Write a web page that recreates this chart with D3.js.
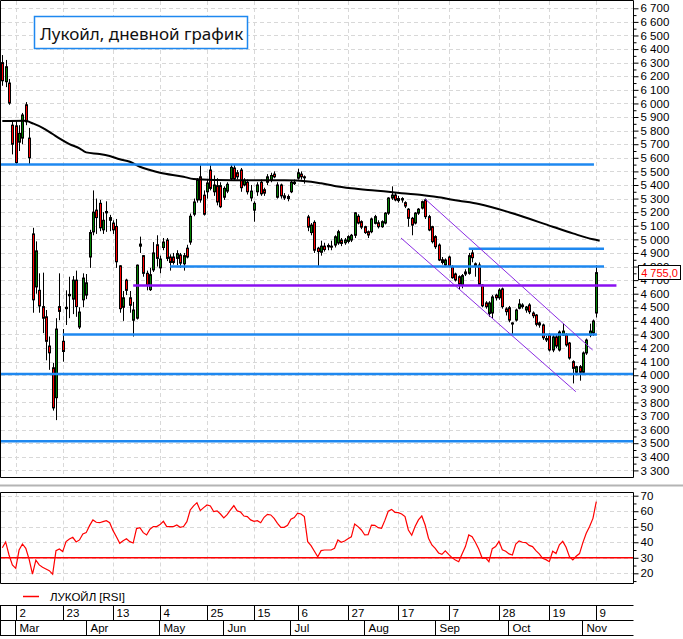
<!DOCTYPE html>
<html>
<head>
<meta charset="utf-8">
<script src="https://cdn.jsdelivr.net/npm/d3@7"></script>
<style>
body { margin: 0; background: #fff; }
text { font-family: "Liberation Sans", Arial, sans-serif; }
</style>
</head>
<body>
<script>
var width = 683,
    height = 639;

// торговые дни: с 25 февраля 2020, без выходных и праздников биржи
var startDate = "2020-02-25";
var holidays = ["2020-03-09", "2020-05-01", "2020-05-11", "2020-06-12", "2020-06-24", "2020-07-01", "2020-11-04"];

// open, high, low, close
var ohlc = [
  [6300,6356,6130,6167],[6160,6320,6120,6270],[6150,6180,5990,6003],[5840,5870,5625,5700],
  // Mar
  [5835,5870,5550,5565],[5715,5840,5650,5780],[5745,5930,5700,5915],[5990,6010,5840,5865],[5745,5820,5550,5600],
  [5040,5085,4460,4555],[4650,4985,4600,4915],[4625,4750,4460,4510],[4505,4755,4310,4420],
  [4430,4480,4110,4250],[4215,4285,4040,4165],[4055,4090,3740,3760],[3835,4420,3670,4340],[4505,4750,4405,4470],
  [4250,4340,4100,4175],[4490,4625,4370,4500],[4585,4725,4420,4595],[4560,4730,4450,4700],[4700,4770,4430,4505],
  [4355,4500,4340,4465],[4555,4750,4500,4715],
  // Apr
  [4590,4745,4560,4680],[4870,5070,4790,5050],[5055,5360,5030,5200],
  [5215,5300,5040,5160],[5265,5290,5060,5085],[5070,5200,5040,5140],[5195,5280,5055,5205],[5140,5180,5060,5160],
  [5120,5140,5040,5070],[5095,5150,4790,4835],[4805,4810,4460,4490],[4500,4620,4400,4570],[4700,4710,4590,4625],
  [4570,4620,4460,4515],[4405,4540,4285,4480],[4420,4815,4410,4810],[4950,5020,4900,4965],[4880,4885,4725,4750],
  [4750,4770,4625,4665],[4630,4790,4620,4740],[4775,4980,4760,4900],[4960,5030,4800,4860],
  // May
  [4790,4880,4750,4855],[4940,5010,4920,4980],[4995,5010,4840,4860],[4870,4890,4770,4830],[4870,4900,4815,4830],
  [4860,4920,4810,4895],[4885,4900,4790,4825],[4820,4900,4770,4880],[4935,4960,4860,4870],
  [4980,5190,4960,5170],[5185,5300,5170,5275],[5290,5450,5270,5437],[5460,5545,5270,5290],[5325,5360,5175,5185],
  [5350,5440,5300,5415],[5510,5545,5360,5375],[5350,5470,5320,5400],[5395,5450,5250,5275],[5395,5420,5230,5240],
  // Jun
  [5310,5390,5290,5375],[5355,5420,5340,5405],[5445,5555,5430,5530],[5525,5550,5430,5445],[5490,5510,5440,5460],
  [5510,5525,5350,5380],[5400,5450,5390,5435],[5420,5440,5330,5350],[5305,5400,5280,5355],
  [5215,5280,5130,5265],[5350,5420,5320,5400],[5420,5440,5320,5335],[5365,5380,5320,5340],[5420,5480,5400,5460],
  [5435,5490,5420,5470],[5480,5500,5450,5460],[5310,5420,5300,5400],[5400,5410,5300,5320],
  [5305,5340,5290,5320],[5315,5330,5280,5300],
  // Jul
  [5350,5430,5340,5420],[5420,5440,5400,5410],
  [5450,5520,5440,5490],[5480,5500,5440,5460],[5460,5470,5410,5455],[5165,5180,5060,5090],[5050,5120,5030,5105],
  [5125,5140,4900,4920],[4935,4945,4800,4910],[4905,4990,4880,4950],[4950,4975,4910,4925],[4945,4970,4920,4955],
  [4950,4990,4920,4945],[4958,5030,4940,5019],[4973,5070,4960,5056],[4995,5010,4950,4970],[4975,5010,4960,4995],
  [4985,5030,4970,5020],[4995,5040,4980,5030],[5030,5200,5010,5195],[5170,5185,5110,5120],[5130,5140,5075,5090],
  // Aug
  [5093,5100,5040,5050],[5056,5065,5010,5032],[5056,5160,5045,5150],[5118,5180,5110,5167],[5122,5140,5080,5093],
  [5093,5140,5085,5130],[5120,5200,5110,5193],[5193,5310,5180,5304],[5304,5390,5290,5326],[5326,5340,5280,5290],
  [5300,5320,5270,5285],[5290,5310,5270,5300],[5270,5280,5230,5245],[5222,5230,5093,5155],[5155,5165,5030,5105],
  [5120,5200,5110,5193],[5193,5230,5180,5222],[5230,5285,5220,5277],[5290,5300,5150,5167],[5167,5180,5060,5069],
  [5093,5100,4970,4983],
  // Sep
  [5020,5030,4930,4946],[4958,4970,4840,4848],[4850,4870,4815,4830],[4811,4860,4800,4848],
  [4870,4880,4795,4804],[4799,4810,4710,4718],[4745,4755,4690,4701],[4725,4735,4630,4670],[4664,4745,4640,4733],
  [4760,4780,4730,4745],[4750,4900,4740,4880],[4900,4922,4831,4865],[4820,4830,4725,4804],[4811,4830,4660,4669],
  [4664,4670,4500,4511],[4532,4545,4490,4505],[4455,4545,4430,4532],[4458,4590,4420,4576],[4590,4600,4550,4570],
  [4570,4640,4555,4627],[4635,4645,4490,4505],[4488,4500,4440,4468],
  // Oct
  [4497,4510,4390,4406],[4385,4390,4300,4377],
  [4406,4490,4395,4480],[4493,4560,4485,4524],[4517,4530,4490,4505],[4480,4510,4460,4502],[4517,4530,4450,4467],
  [4458,4470,4420,4438],[4443,4450,4360,4375],[4385,4395,4350,4370],[4370,4380,4260,4276],[4270,4290,4245,4260],
  [4296,4310,4175,4186],[4186,4295,4170,4282],[4282,4300,4200,4215],[4186,4330,4175,4318],[4296,4380,4290,4325],
  [4296,4310,4210,4223],[4237,4245,4115,4127],[4100,4110,3940,4051],[4022,4070,4000,4063],[4063,4075,3960,4022],
  // Nov
  [4022,4175,4010,4164],[4164,4270,4150,4259],[4296,4380,4280,4325],[4311,4410,4290,4399],
  [4458,4810,4425,4755]
];

var rsi = [
  36.5,40.2,31.8,25.4,
  23.2,35,38.9,36.1,29, 19.4,28.5,25.4,23.9, 22.8,21.7,19.4,34.6,35.7, 34,40.4,42.1,43.2,40.2, 41.5,45.3,
  46.2,50.7,54.4, 52.9,52.6,53.3,53.9,52.6, 47.5,43.6,39.3,41,42.3, 40.4,39.5,48.8,49.4,46.2, 44.7,48.4,50.1,50.1,
  51.4,53.5,50.1,50.1,50.1, 51.1,49.6,50.1,53.3, 60.8,63.4,65.5,60.4,62.3, 64,63.4,59.7,60.2,58.2,
  55.7,57.8,60.8,63.6,60.2, 59.5,56.9,56.5,54.4, 53.5,53.9,52.6,56.1,58, 57.6,55.4,52.2,49.6, 49.6,50.9,
  54.8,55.9,
  58.7,58.2,56.5,40.4,37.8, 34.2,30.7,34.6,35,35, 35,36.1,41.5,40,40.8, 42.3,43.5,51.8,50.1,47.9,
  44.7,44.9,51.1,50.9,49.4, 49,54.1,60,61.2,59.3, 59.1,58.2,56.5,47.9,44.5, 50.1,54.4,56.9,51.1,42.6,
  38.3,
  36.1,33.1,32.2,34.4, 32.2,30.1,28.6,27.5,32.5, 37.2,44.7,43.6,39.8,35.5, 29.7,29.9,27.5,35.9,37.2,
  40.6,35.2,34.2,
  32.5,31.8, 38.9,40.8,40,39.8,38, 37.2,34.6,32.5,29.7,28.8, 27.5,34.2,32.7,38.3,40.6, 36.8,30.7,28.6,31,32.7,
  39.8,45.8,50.1,55.4,
  66.2
];

// скользящая средняя: [номер торгового дня, цена]
var maPoints = [
  [0,5871],[7,5873],[9,5854],[12,5821],[15,5775],[17,5743],[20,5701],[23,5670],[25,5640],[29,5628],
  [32,5613],[35,5589],[38,5571],[41,5534],[44,5510],[47,5490],[54,5461],[57,5444],[64,5437],[74,5434],
  [84,5434],[92,5424],[95,5412],[99,5393],[104,5376],[109,5363],[115,5350],[119,5339],[125,5326],[130,5309],
  [136,5284],[142,5260],[152,5192],[164,5093],[170,5044],[176,5000],[178,4990]
];

// уровни: [цена, с дня, по день]
var blueLevels = [[5550,-2,176.3],[4930,139,179.3],[4800,50,179.3],[4300,18,177.2],[4010,-2,200],[3515,-2,200]];
var purpleLevels = [[4660,39,183]];
// канал: [[день, цена], [день, цена]]
var channel = [[[126,5297],[175.9,4186]], [[118.8,5010],[170.9,3879]]];

var dayTicks = ["2020-03-02","2020-03-23","2020-04-13","2020-05-04","2020-05-25","2020-06-15","2020-07-06",
                "2020-07-27","2020-08-17","2020-09-07","2020-09-28","2020-10-19","2020-11-09"];
var monthNames = ["Jan","Feb","Mar","Apr","May","Jun","Jul","Aug","Sep","Oct","Nov","Dec"];
var priceTicks = d3.range(3300, 6701, 100);
var rsiTicks = [20, 30, 40, 50, 60, 70];

var title = "Лукойл, дневной график";
var legendLabel = "ЛУКОЙЛ [RSI]";

// даты торговых дней
var fmtDay = d3.utcFormat("%Y-%m-%d");
var dates = [];
for (var d = d3.utcParse("%Y-%m-%d")(startDate); dates.length < ohlc.length; d = d3.utcDay.offset(d, 1)) {
  var wd = d.getUTCDay();
  if (wd === 0 || wd === 6 || holidays.indexOf(fmtDay(d)) >= 0) continue;
  dates.push(d);
}
var dayKeys = dates.map(fmtDay);

var ru = d3.formatLocale({decimal: ",", thousands: "\u00a0", grouping: [3], currency: ["", ""]});

var x = d3.scaleLinear().domain([0, 177]).range([2.3, 596.3]);
var y = d3.scaleLinear().domain([3300, 6700]).range([470.4, 8.3]);
var yr = d3.scaleLinear().domain([20, 70]).range([573.3, 495.7]);

var axisX = 633.5, mainBottom = 477.5, rsiTop = 492.5, rsiBottom = 583.5;

var svg = d3.select("body").append("svg")
    .attr("width", width)
    .attr("height", height);

var defs = svg.append("defs");
defs.append("clipPath").attr("id", "clipMain").append("rect")
    .attr("x", 1).attr("y", 1).attr("width", axisX - 1.5).attr("height", mainBottom - 1.5);
defs.append("clipPath").attr("id", "clipRsi").append("rect")
    .attr("x", 1).attr("y", rsiTop + 0.5).attr("width", axisX - 1.5).attr("height", rsiBottom - rsiTop - 1);

var tickIdx = dayTicks.map(function(k) { return dayKeys.indexOf(k); });
var crisp = function(v) { return Math.round(v) + 0.5; };

// сетка
var grid = svg.append("g").attr("stroke", "#d8d8d8").attr("stroke-dasharray", "4,3");
grid.selectAll(".hg").data(priceTicks).enter().append("line")
    .attr("x1", 1).attr("x2", axisX)
    .attr("y1", function(d) { return crisp(y(d)); })
    .attr("y2", function(d) { return crisp(y(d)); });
grid.selectAll(".vg").data(tickIdx).enter().append("line")
    .attr("x1", function(d) { return crisp(x(d)); })
    .attr("x2", function(d) { return crisp(x(d)); })
    .attr("y1", 1).attr("y2", mainBottom);
grid.selectAll(".hr").data(rsiTicks).enter().append("line")
    .attr("x1", 1).attr("x2", axisX)
    .attr("y1", function(d) { return crisp(yr(d)); })
    .attr("y2", function(d) { return crisp(yr(d)); });
grid.selectAll(".vr").data(tickIdx).enter().append("line")
    .attr("x1", function(d) { return crisp(x(d)); })
    .attr("x2", function(d) { return crisp(x(d)); })
    .attr("y1", rsiTop).attr("y2", rsiBottom);

// свечи
var plot = svg.append("g").attr("clip-path", "url(#clipMain)");
var candle = plot.selectAll(".candle")
    .data(ohlc)
  .enter().append("g")
    .attr("class", "candle");

candle.append("line")
    .attr("x1", function(d, i) { return crisp(x(i)); })
    .attr("x2", function(d, i) { return crisp(x(i)); })
    .attr("y1", function(d) { return y(d[1]); })
    .attr("y2", function(d) { return y(d[2]); })
    .attr("stroke", "#000");

candle.append("rect")
    .attr("x", function(d, i) { return crisp(x(i)) - 1; })
    .attr("width", 2)
    .attr("y", function(d) { return y(Math.max(d[0], d[3])); })
    .attr("height", function(d) { return Math.max(1, Math.abs(y(d[0]) - y(d[3]))); })
    .style("fill", function(d) { return d[3] >= d[0] ? "#008000" : "#ff0000"; })
    .attr("stroke", "#000")
    .attr("stroke-width", 1);

// скользящая средняя
plot.append("path")
    .datum(maPoints)
    .attr("fill", "none")
    .attr("stroke", "#000")
    .attr("stroke-width", 2)
    .attr("d", d3.line()
        .curve(d3.curveMonotoneX)
        .x(function(d) { return x(d[0]); })
        .y(function(d) { return y(d[1]); }));

// уровни
plot.selectAll(".blue").data(blueLevels).enter().append("line")
    .attr("x1", function(d) { return x(d[1]); })
    .attr("x2", function(d) { return x(d[2]); })
    .attr("y1", function(d) { return y(d[0]); })
    .attr("y2", function(d) { return y(d[0]); })
    .attr("stroke", "#1e88f0")
    .attr("stroke-width", 2.5);

plot.selectAll(".purple").data(purpleLevels).enter().append("line")
    .attr("x1", function(d) { return x(d[1]); })
    .attr("x2", function(d) { return x(d[2]); })
    .attr("y1", function(d) { return y(d[0]); })
    .attr("y2", function(d) { return y(d[0]); })
    .attr("stroke", "#8a10f0")
    .attr("stroke-width", 2.5);

plot.selectAll(".channel").data(channel).enter().append("line")
    .attr("x1", function(d) { return x(d[0][0]); })
    .attr("y1", function(d) { return y(d[0][1]); })
    .attr("x2", function(d) { return x(d[1][0]); })
    .attr("y2", function(d) { return y(d[1][1]); })
    .attr("stroke", "#8a2be2")
    .attr("stroke-width", 1);

// рамки
var frame = svg.append("g").attr("stroke", "#000").attr("fill", "none");
frame.append("path").attr("d", "M0.5,477.5V0.5H" + axisX + "V" + mainBottom + "H0.5");
frame.append("path").attr("d", "M0.5," + rsiBottom + "V" + rsiTop + "H" + axisX + "V" + rsiBottom + "H0.5");
svg.append("line").attr("x1", 0).attr("x2", width).attr("y1", 485.5).attr("y2", 485.5)
    .attr("stroke", "#b4b4b4").attr("stroke-width", 2);

// ось цен
var yAxis = svg.append("g")
    .attr("transform", "translate(" + axisX + ",0)")
    .call(d3.axisRight(y).tickValues(priceTicks).tickSize(5).tickSizeOuter(0)
        .tickFormat(ru.format(",d")));
svg.append("g")
    .attr("transform", "translate(" + axisX + ",0)")
    .call(d3.axisRight(y).tickValues(d3.range(3350, 6700, 100)).tickSize(3).tickFormat(""))
    .select(".domain").remove();
yAxis.select(".domain").remove();
yAxis.selectAll("text").attr("x", 7).style("font-size", "11.5px").style("font-family", "Liberation Sans, Arial, sans-serif").attr("fill", "#000");

// последняя цена (рамка перекрывает подписи 4 800 и 4 700, как в оригинале)
var last = ohlc[ohlc.length - 1][3];
var lastG = svg.append("g").attr("transform", "translate(638," + Math.round(y(last)) + ")");
lastG.append("rect").attr("x", 0.5).attr("y", -7.5).attr("width", 42).attr("height", 14)
    .attr("fill", "#fff").attr("stroke", "#000");
lastG.append("text").attr("x", 21.5).attr("y", 4).attr("text-anchor", "middle").attr("fill", "#ff0000")
    .style("font-size", "11px").text(ru.format(",.1f")(last));

// RSI
var rsiG = svg.append("g").attr("clip-path", "url(#clipRsi)");
rsiG.append("line").attr("x1", 1).attr("x2", axisX)
    .attr("y1", yr(30)).attr("y2", yr(30))
    .attr("stroke", "#ff0000").attr("stroke-width", 1.5);
rsiG.append("path")
    .datum(rsi)
    .attr("fill", "none")
    .attr("stroke", "#ff0000")
    .attr("stroke-width", 1.2)
    .attr("d", d3.line()
        .x(function(d, i) { return x(i); })
        .y(function(d) { return yr(d); }));

var rAxis = svg.append("g")
    .attr("transform", "translate(" + axisX + ",0)")
    .call(d3.axisRight(yr).tickValues(rsiTicks).tickSize(5).tickSizeOuter(0));
rAxis.select(".domain").remove();
rAxis.selectAll("text").attr("x", 7).style("font-size", "11.5px").style("font-family", "Liberation Sans, Arial, sans-serif");
svg.append("g")
    .attr("transform", "translate(" + axisX + ",0)")
    .call(d3.axisRight(yr).tickValues([15, 25, 35, 45, 55, 65]).tickSize(3).tickFormat(""))
    .select(".domain").remove();

// легенда
svg.append("line").attr("x1", 23).attr("x2", 39).attr("y1", 596.5).attr("y2", 596.5)
    .attr("stroke", "#ff0000").attr("stroke-width", 1.5);
svg.append("text").attr("x", 50).attr("y", 600.5).style("font-size", "11.5px").text(legendLabel);

// ось дат
var bottom = svg.append("g");
[605.5, 620.5, 635.5].forEach(function(v) {
  bottom.append("line").attr("x1", 0).attr("x2", axisX).attr("y1", v).attr("y2", v).attr("stroke", "#000");
});
bottom.append("line").attr("x1", 0.5).attr("x2", 0.5).attr("y1", 605).attr("y2", 636).attr("stroke", "#000");

var dayG = bottom.selectAll(".day").data(tickIdx).enter().append("g")
    .attr("transform", function(d) { return "translate(" + crisp(x(d)) + ",0)"; });
dayG.append("line").attr("y1", 605.5).attr("y2", 620.5).attr("stroke", "#000");
dayG.append("text").attr("x", 3).attr("y", 617).style("font-size", "11.5px")
    .text(function(d) { return dates[d].getUTCDate(); });

var monthStarts = d3.range(1, dates.length).filter(function(i) {
  return dates[i].getUTCMonth() !== dates[i - 1].getUTCMonth();
});
var monG = bottom.selectAll(".month").data(monthStarts).enter().append("g")
    .attr("transform", function(d) { return "translate(" + crisp(x(d) - 0.6) + ",0)"; });
monG.append("line").attr("y1", 620.5).attr("y2", 635.5).attr("stroke", "#000");
monG.append("text").attr("x", 4).attr("y", 632).style("font-size", "11.5px")
    .text(function(d) { return monthNames[dates[d].getUTCMonth()]; });

// заголовок
var tg = svg.append("g");
tg.append("rect").attr("x", 34.5).attr("y", 16.5).attr("width", 213).attr("height", 32)
    .attr("fill", "#fff").attr("stroke", "#1e88f0").attr("stroke-width", 1.5);
tg.append("text").attr("x", 40).attr("y", 40)
    .style("font-family", "'Noto Sans', 'Open Sans', sans-serif")
    .style("font-size", "17px").attr("fill", "#111").text(title);
</script>
</body>
</html>
